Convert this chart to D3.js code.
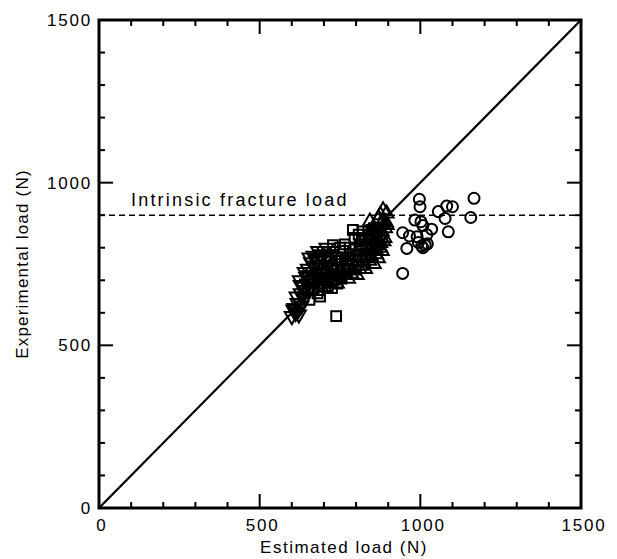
<!DOCTYPE html>
<html><head><meta charset="utf-8">
<script src="https://cdn.jsdelivr.net/npm/d3@7"></script>
<style>body{margin:0;background:#fff}svg{display:block}text{font-family:"Liberation Sans",Arial,sans-serif;fill:#000}</style>
</head><body>
<script>
const xTicks = [0, 500, 1000, 1500];
const yTicks = [0, 500, 1000, 1500];
const minorTicks = [100,200,300,400,500,600,700,800,900,1000,1100,1200,1300,1400];
const fractureLoad = 900;
const fractureLabel = "Intrinsic fracture load";
const xTitle = "Estimated load (N)";
const yTitle = "Experimental load (N)";

const circles = [[945,721],[958,798],[945,846],[966,836],[990,834],[994,816],[1004,806],[1015,808],[1008,800],[1022,812],[983,885],[1002,880],[1008,868],[997,949],[999,926],[1035,857],[1056,911],[1077,890],[1082,928],[1087,849],[1100,926],[1157,893],[1167,952],[1020,840]];
const squares = [[738,590],[640,660],[655,640],[668,675],[680,660],[690,690],[700,705],[712,680],[720,720],[730,700],[738,735],[745,715],[752,750],[760,730],[768,765],[775,745],[782,780],[790,760],[798,795],[805,775],[812,810],[820,790],[828,825],[835,805],[842,840],[850,820],[858,830],[865,845],[872,810],[855,860],[820,850],[790,855],[760,790],[735,760],[728,808],[710,740],[697,701],[725,676],[770,720],[800,740],[830,780],[845,790],[880,830],[865,800],
  [660,700],[675,720],[685,670],[705,725],[715,760],[725,745],[740,770],[750,800],[765,810],[780,800],[795,830],[808,840],[818,830],[838,850],[848,855],[862,825],[742,690],[755,705],[688,650],[650,670]];
const trianglesUp = [[700,680],[715,690],[730,700],[745,710],[760,720],[775,705],[790,730],[802,716],[815,745],[828,735],[840,760],[855,750],[868,768],[880,790],[860,795],[875,815],[888,830],[870,840],[850,810],[835,790],[890,860],[880,875],[870,890],[884,915],[843,880],[895,905],[855,855],[820,770],[805,760],[780,740],[760,745],[740,690],[880,850],
  [710,700],[725,715],[750,725],[765,735],[785,720],[795,745],[810,735],[822,755],[845,775],[862,780],[875,800],[885,820],[866,825],[852,840],[838,820],[895,870],[876,900],[730,730],[770,760]];
const trianglesUpFilled = [[893,878]];
const trianglesDown = [[600,590],[612,600],[622,595],[608,615],[618,630],[630,622],[615,650],[628,660],[640,645],[635,680],[648,690],[645,710],[656,700],[650,735],[665,725],[660,755],[672,745],[668,775],[680,765],[690,780],[700,790],[712,775],[625,700],[640,725],[655,770],[700,760],[685,740],[675,710],[660,680],[690,720],[720,760],[730,790],
  [605,610],[618,605],[632,650],[642,670],[652,715],[662,715],[675,760],[682,790],[695,770],[708,800],[715,745],[628,685]];

const W = 617, H = 559;
const svg = d3.select("body").append("svg").attr("width", W).attr("height", H);
const x = d3.scaleLinear().domain([0,1500]).range([99,581]);
const y = d3.scaleLinear().domain([0,1500]).range([508,20]);
const fs = 17;

// ticks (inward on all sides)
const tk = svg.append("g").attr("stroke","#000").attr("stroke-width",2);
minorTicks.forEach(v => {
  const L = (v % 500 === 0) ? 14 : 6;
  tk.append("line").attr("x1",x(v)).attr("x2",x(v)).attr("y1",y(0)).attr("y2",y(0)-L);
  tk.append("line").attr("x1",x(v)).attr("x2",x(v)).attr("y1",y(1500)).attr("y2",y(1500)+L);
  tk.append("line").attr("y1",y(v)).attr("y2",y(v)).attr("x1",x(0)).attr("x2",x(0)+L);
  tk.append("line").attr("y1",y(v)).attr("y2",y(v)).attr("x1",x(1500)).attr("x2",x(1500)-L);
});

// frame
svg.append("rect").attr("x",x(0)).attr("y",y(1500)).attr("width",x(1500)-x(0)).attr("height",y(0)-y(1500))
  .attr("fill","none").attr("stroke","#000").attr("stroke-width",3);

// tick labels
svg.append("g").selectAll("text").data(xTicks).join("text")
  .attr("x", d => x(d)+3).attr("y", 531).attr("text-anchor","middle")
  .attr("font-size",fs).attr("letter-spacing",1.8).text(d => d);
svg.append("g").selectAll("text").data(yTicks).join("text")
  .attr("x", 92).attr("y", d => y(d)+6).attr("text-anchor","end")
  .attr("font-size",fs).attr("letter-spacing",1.8).text(d => d);

// titles
svg.append("text").attr("x",(x(0)+x(1500))/2 + 4).attr("y",553).attr("text-anchor","middle")
  .attr("font-size",fs).attr("letter-spacing",1.5).text(xTitle);
svg.append("text").attr("transform",`translate(28,${(y(0)+y(1500))/2}) rotate(-90)`).attr("text-anchor","middle")
  .attr("font-size",fs).attr("letter-spacing",1.2).text(yTitle);

// diagonal
svg.append("line").attr("x1",x(0)).attr("y1",y(0)).attr("x2",x(1500)).attr("y2",y(1500))
  .attr("stroke","#000").attr("stroke-width",2.2);

// fracture load dashed
svg.append("line").attr("x1",x(0)).attr("x2",x(1500)).attr("y1",y(fractureLoad)).attr("y2",y(fractureLoad))
  .attr("stroke","#000").attr("stroke-width",1.5).attr("stroke-dasharray","6,4");
svg.append("text").attr("x",131).attr("y",y(fractureLoad)-9).attr("font-size",18).attr("letter-spacing",2.2)
  .text(fractureLabel);

const g = svg.append("g").attr("fill","none").attr("stroke","#000").attr("stroke-width",2);
const tri = d3.symbol().type(d3.symbolTriangle).size(85);
const sq = d3.symbol().type(d3.symbolSquare).size(95);

g.selectAll(".sq").data(squares).join("path").attr("class","sq")
  .attr("d", sq()).attr("transform", d => `translate(${x(d[0])},${y(d[1])})`);
g.selectAll(".td").data(trianglesDown).join("path").attr("class","td")
  .attr("d", tri()).attr("transform", d => `translate(${x(d[0])},${y(d[1])}) rotate(180)`);
g.selectAll(".tu").data(trianglesUp).join("path").attr("class","tu")
  .attr("d", tri()).attr("transform", d => `translate(${x(d[0])},${y(d[1])})`);
g.selectAll(".tf").data(trianglesUpFilled).join("path").attr("class","tf")
  .attr("d", tri()).attr("fill","#000").attr("transform", d => `translate(${x(d[0])},${y(d[1])})`);
g.selectAll(".ci").data(circles).join("circle").attr("class","ci")
  .attr("r",5.5).attr("cx", d => x(d[0])).attr("cy", d => y(d[1]));
</script>
</body></html>
